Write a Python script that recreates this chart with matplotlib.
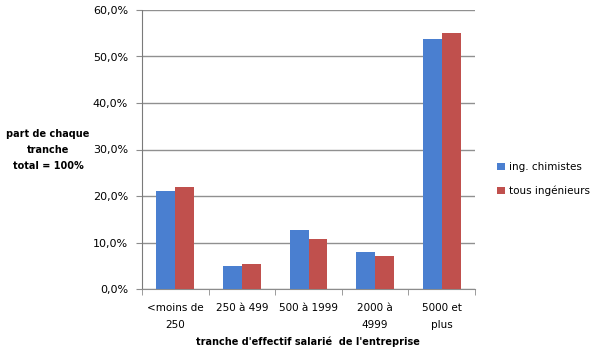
import matplotlib
matplotlib.use("Agg")
import matplotlib.pyplot as plt
import numpy as np
from matplotlib.ticker import FuncFormatter, MultipleLocator

categories = ["<moins de\n250", "250 à 499", "500 à 1999", "2000 à\n4999", "5000 et\nplus"]
chimistes = [21.0, 4.9, 12.7, 8.0, 53.8]
tous = [22.0, 5.4, 10.8, 7.1, 55.1]
series_names = ["ing. chimistes", "tous ingénieurs"]

plt.rcParams['font.family'] = ['DejaVu Sans']

fig = plt.figure(figsize=(5.93, 3.55), dpi=100)
ax = fig.add_axes([142/593, 1-289/355, (475-142)/593, (289-10)/355])

x = np.arange(len(categories))
w = 0.285
ax.bar(x - w/2, chimistes, w, color="#4a7fd0", label=series_names[0], zorder=3)
ax.bar(x + w/2, tous, w, color="#c0504d", label=series_names[1], zorder=3)

ax.set_xlim(-0.5, len(categories) - 0.5)
ax.set_ylim(0, 60)
ax.yaxis.set_major_locator(MultipleLocator(10))
ax.yaxis.set_major_formatter(FuncFormatter(lambda v, p: f"{v:.1f}%".replace(".", ",")))
ax.grid(axis="y", color="#909090", linewidth=1, zorder=0)

ax.set_xticks(x)
ax.set_xticklabels(categories, fontsize=7.5, linespacing=1.85)
ax.set_xticks(np.arange(len(categories) + 1) - 0.5, minor=True)
ax.tick_params(axis="x", which="major", length=0, pad=10)
ax.tick_params(axis="x", which="minor", length=4, color="#8c8c8c", direction="out")
ax.tick_params(axis="y", labelsize=8, length=4, color="#8c8c8c", direction="out", pad=6)

for s in ["top", "right"]:
    ax.spines[s].set_visible(False)
ax.spines["left"].set_color("#7a7a7a")
ax.spines["left"].set_linestyle((0, (1, 1)))
ax.spines["bottom"].set_color("#8c8c8c")

fig.text(308/593, 1-342/355, "tranche d'effectif salarié  de l'entreprise",
         ha="center", va="center", fontsize=7, fontweight="bold")
fig.text(48/593, 1-150/355, "part de chaque\ntranche\ntotal = 100%",
         ha="center", va="center", fontsize=7, fontweight="bold", linespacing=1.7)

leg = fig.legend(loc="center left", bbox_to_anchor=(488/593, 1-179/355), frameon=False,
                 fontsize=7.5, handlelength=0.7, handleheight=0.7, handletextpad=0.4,
                 labelspacing=1.3)

fig.savefig("out.png", dpi=100)
